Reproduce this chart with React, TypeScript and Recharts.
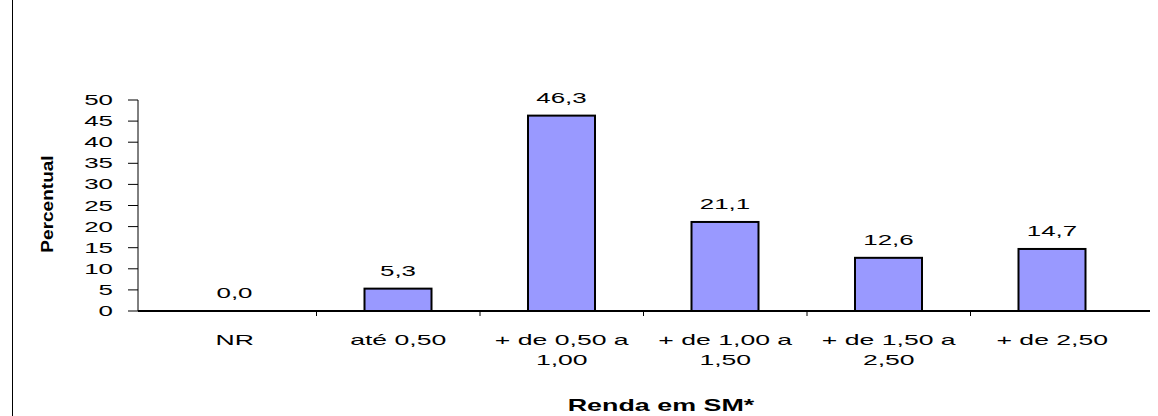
import React from "react";
import { BarChart, Bar, XAxis, YAxis } from "recharts";

const categories = [
  "NR",
  "até 0,50",
  "+ de 0,50 a 1,00",
  "+ de 1,00 a 1,50",
  "+ de 1,50 a 2,50",
  "+ de 2,50",
];
const values = [0.0, 5.3, 46.3, 21.1, 12.6, 14.7];
const yTicks = [0, 5, 10, 15, 20, 25, 30, 35, 40, 45, 50];
const xTitle = "Renda em SM*";
const yTitle = "Percentual";

const data = categories.map((c, i) => ({ name: c, value: values[i] }));

const FONT = "'Liberation Sans', Arial, sans-serif";
const fmt = (v: number) => v.toFixed(1).replace(".", ",");

function SText({ x, y, sx, size, bold, anchor, rotate, children }: any) {
  const tf = rotate
    ? `translate(${x},${y}) rotate(${rotate}) scale(${sx},1)`
    : `translate(${x},${y}) scale(${sx},1)`;
  return (
    <text
      x={0}
      y={0}
      transform={tf}
      textAnchor={anchor || "middle"}
      style={{ fontFamily: FONT, fontSize: size, fontWeight: bold ? 700 : 400 }}
      fill="#000"
    >
      {children}
    </text>
  );
}

function XTick(props: any) {
  const { x, y, payload, index } = props;
  const label: string = String(payload.value);
  const idx = label.lastIndexOf(" a ");
  const lines = idx > 0 ? [label.slice(0, idx + 2), label.slice(idx + 3)] : [label];
  const off = payload.offset ?? 81.8;
  return (
    <g>
      {index > 0 && (
        <line x1={x - off} x2={x - off} y1={y} y2={y + 5} stroke="#000" strokeWidth={1} />
      )}
      {lines.map((l, i) => (
        <SText key={i} x={x} y={y + 34 + i * 20} sx={1.9} size={14}>
          {l}
        </SText>
      ))}
    </g>
  );
}

function YTick(props: any) {
  const { x, y, payload } = props;
  return (
    <SText x={x} y={y + 5} sx={1.85} size={14} anchor="end">
      {payload.value}
    </SText>
  );
}

function BarShape(props: any) {
  const { x, y, width, height, payload, fill } = props;
  const v = Number(payload?.value ?? 0);
  return (
    <g>
      {height > 0 && (
        <rect x={x} y={y} width={width} height={height} fill={fill} stroke="#000" strokeWidth={2} />
      )}
      <SText x={x + width / 2} y={y - 13} sx={1.85} size={14}>
        {fmt(v)}
      </SText>
    </g>
  );
}

export default function App() {
  return (
    <div style={{ position: "absolute", left: 0, top: 0, width: 1158, height: 416, background: "#fff" }}>
      <div style={{ position: "absolute", left: 12, top: 0, width: 1, height: 416, background: "#000" }} />
      <BarChart
        width={1158}
        height={416}
        data={data}
        margin={{ top: 100, right: 8, bottom: 0, left: 0 }}
        barSize={67}
      >
        <XAxis
          dataKey="name"
          type="category"
          height={105}
          padding={{ left: 15, right: 16 }}
          axisLine={{ stroke: "#000", strokeWidth: 2 }}
          tickLine={false}
          tickSize={0}
          tickMargin={0}
          interval={0}
          tick={<XTick />}
        />
        <YAxis
          width={138}
          domain={[0, 50]}
          ticks={yTicks}
          interval={0}
          axisLine={{ stroke: "#000", strokeWidth: 1 }}
          tickLine={{ stroke: "#000", strokeWidth: 1 }}
          tickSize={10}
          tickMargin={15}
          tick={<YTick />}
        />
        <Bar
          dataKey="value"
          fill="#9999FF"
          stroke="#000"
          strokeWidth={2}
          isAnimationActive={false}
          shape={<BarShape />}
        />
        <SText x={53} y={204} sx={1.12} size={17} bold rotate={-90}>
          {yTitle}
        </SText>
        <SText x={661} y={411} sx={1.68} size={16} bold>
          {xTitle}
        </SText>
      </BarChart>
    </div>
  );
}
